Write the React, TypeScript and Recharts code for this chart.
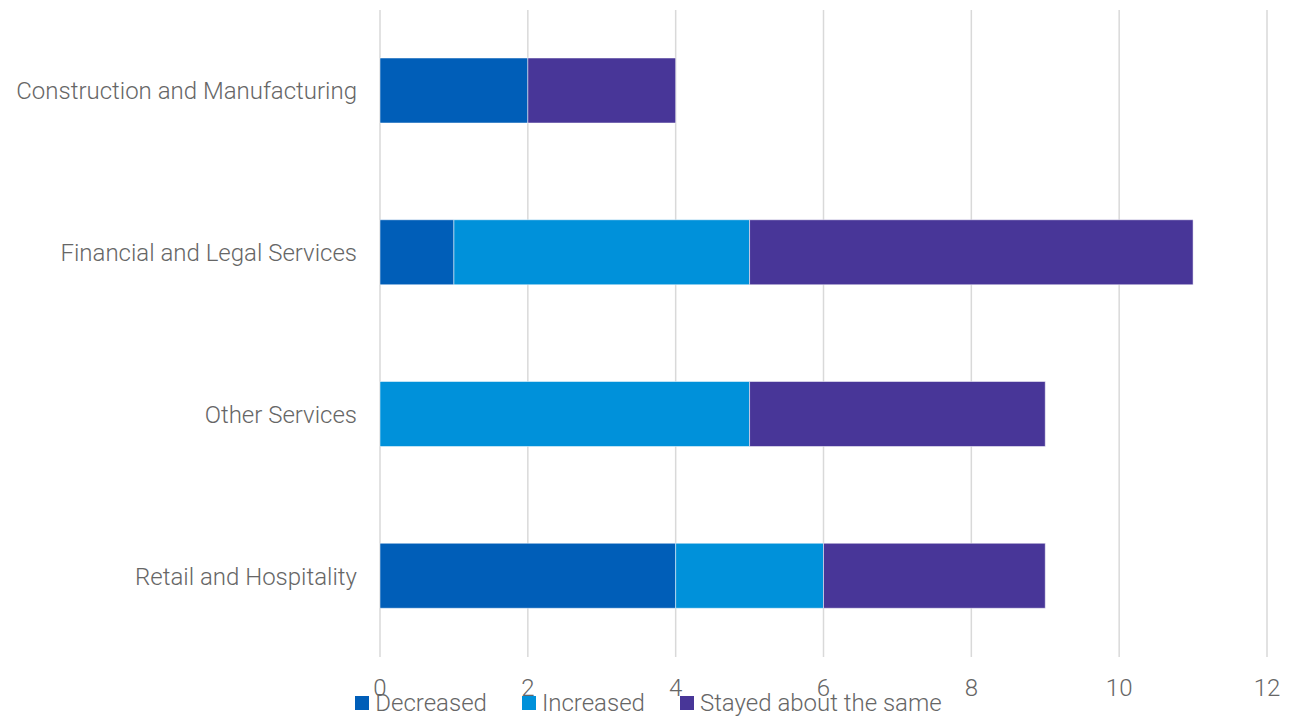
import { Bar, BarChart, CartesianGrid, XAxis, YAxis } from "recharts";

const sectors = [
  "Construction and Manufacturing",
  "Financial and Legal Services",
  "Other Services",
  "Retail and Hospitality",
];
const decreased = [2, 1, 0, 4];
const increased = [0, 4, 5, 2];
const stayedSame = [2, 6, 4, 3];
const xTicks = [0, 2, 4, 6, 8, 10, 12];

const seriesInfo = [
  { key: "decreased", name: "Decreased", color: "#005EB8" },
  { key: "increased", name: "Increased", color: "#0091DA" },
  { key: "stayed", name: "Stayed about the same", color: "#483698" },
];

const data = sectors.map((sector, i) => ({
  sector,
  decreased: decreased[i],
  increased: increased[i],
  stayed: stayedSame[i],
}));

const font = "Roboto, 'Liberation Sans', sans-serif";
const textColor = "#666666";
const fontSize = 24;

function LegendRow() {
  return (
    <div
      style={{
        position: "absolute",
        left: 0,
        top: 689,
        width: 1297,
        display: "flex",
        justifyContent: "center",
        alignItems: "center",
        fontFamily: font,
        fontWeight: 300,
        fontSize,
        color: textColor,
        lineHeight: "28px",
      }}
    >
      {seriesInfo.map((s, i) => (
        <div key={s.key} style={{ display: "flex", alignItems: "center", marginLeft: i === 0 ? 0 : 35 }}>
          <span style={{ display: "inline-block", width: 14, height: 14, background: s.color, marginRight: 6 }} />
          <span>{s.name}</span>
        </div>
      ))}
    </div>
  );
}

export default function App() {
  return (
    <div style={{ position: "absolute", left: 0, top: 0, width: 1297, height: 717, background: "#fff" }}>
      <BarChart
        width={1297}
        height={717}
        data={data}
        layout="vertical"
        margin={{ top: 10, right: 30, bottom: 30, left: 0 }}
        barSize={65}
      >
        <CartesianGrid horizontal={false} stroke="#d9d9d9" strokeWidth={1.5} />
        <XAxis
          type="number"
          domain={[0, 12]}
          ticks={xTicks}
          height={30}
          axisLine={false}
          tickLine={false}
          tickSize={0}
          tickMargin={22}
          interval={0}
          tick={{ fill: textColor, fontSize, fontFamily: font, fontWeight: 300 }}
        />
        <YAxis
          type="category"
          dataKey="sector"
          width={380}
          axisLine={false}
          tickLine={false}
          tickSize={0}
          tickMargin={23}
          tick={{ fill: textColor, fontSize, fontFamily: font, fontWeight: 300 }}
        />
        {seriesInfo.map((s) => (
          <Bar
            key={s.key}
            dataKey={s.key}
            name={s.name}
            stackId="a"
            fill={s.color}
            stroke="#ffffff"
            strokeWidth={0.5}
            isAnimationActive={false}
          />
        ))}
      </BarChart>
      <LegendRow />
    </div>
  );
}
